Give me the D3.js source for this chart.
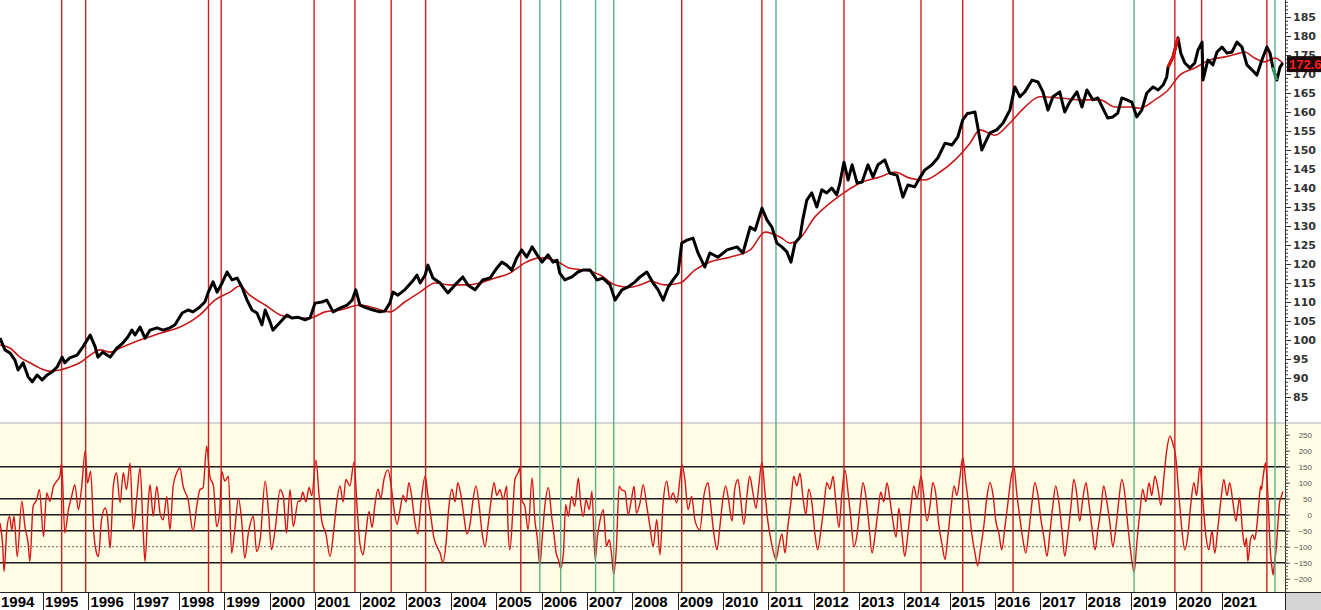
<!DOCTYPE html>
<html><head><meta charset="utf-8">
<script src="https://cdn.jsdelivr.net/npm/d3@7"></script>
<style>body{margin:0;background:#fff;} svg{display:block}</style>
</head><body>
<svg id="c" width="1321" height="610"></svg>
<script>
// ---------- DATA ----------
const yearLabels = d3.range(1994, 2022);
const priceTicks = d3.range(85, 190, 5);
const oscTicks = d3.range(-200, 300, 50);
const oscLevels = [150, 50, 0, -50, -150];
const oscDotted = [-100];
const lastPrice = "172.6";
const redSignals = [1995.41,1995.94,1998.65,1998.93,2000.98,2001.88,2002.68,2003.44,2005.54,2009.09,2010.86,2012.67,2014.37,2015.29,2016.40,2019.97,2020.56,2022.00];
const greenSignals = [2005.96,2006.42,2007.19,2007.59,2011.17,2019.07,2022.18];
const redPriceSpan = [2019.81, 2020.05];
const greenPriceSpan = [2022.12, 2022.24];

const price = [
[1994.05,100.5],[1994.16,97.4],[1994.27,96.6],[1994.38,94.7],[1994.45,92.1],[1994.56,94.0],[1994.67,90.3],[1994.76,89.0],[1994.87,90.8],[1994.98,89.5],
[1995.09,90.8],[1995.20,91.6],[1995.31,92.9],[1995.42,95.5],[1995.48,94.0],[1995.59,95.3],[1995.75,96.0],[1995.88,98.2],[1996.04,101.3],[1996.15,98.2],
[1996.21,95.5],[1996.32,96.8],[1996.48,95.5],[1996.63,97.9],[1996.76,99.2],[1996.87,100.8],[1996.96,102.6],[1997.03,101.3],[1997.14,103.4],[1997.25,100.5],
[1997.36,102.6],[1997.51,103.2],[1997.65,102.6],[1997.80,103.2],[1997.91,104.0],[1998.07,107.1],[1998.20,107.9],[1998.31,107.4],[1998.46,108.7],[1998.57,110.0],
[1998.64,112.4],[1998.75,115.3],[1998.84,112.6],[1998.95,115.0],[1999.06,117.9],[1999.17,115.8],[1999.28,116.3],[1999.39,113.9],[1999.50,110.5],[1999.61,107.9],
[1999.72,107.1],[1999.83,104.0],[1999.90,107.9],[2000.01,104.7],[2000.07,102.6],[2000.23,104.7],[2000.38,106.6],[2000.49,105.8],[2000.62,106.0],[2000.78,105.3],
[2000.89,105.8],[2001.00,109.7],[2001.15,110.0],[2001.26,110.5],[2001.40,107.4],[2001.55,108.4],[2001.71,109.2],[2001.82,110.5],[2001.90,113.2],[2001.99,109.2],
[2002.15,108.4],[2002.28,107.9],[2002.43,107.4],[2002.54,107.6],[2002.65,109.7],[2002.72,112.6],[2002.83,111.8],[2002.98,113.2],[2003.14,115.3],[2003.25,117.1],
[2003.32,115.0],[2003.43,117.1],[2003.49,119.7],[2003.60,116.3],[2003.76,115.0],[2003.93,112.4],[2004.09,114.5],[2004.26,116.6],[2004.37,114.5],[2004.53,113.2],
[2004.70,115.8],[2004.86,116.3],[2005.01,118.9],[2005.12,120.5],[2005.23,119.7],[2005.34,118.4],[2005.45,121.6],[2005.56,123.7],[2005.67,121.8],[2005.79,124.5],
[2005.90,122.4],[2006.01,120.5],[2006.14,122.4],[2006.25,120.5],[2006.34,121.0],[2006.40,117.6],[2006.51,115.8],[2006.67,116.6],[2006.80,117.9],[2006.91,118.4],
[2007.07,118.4],[2007.22,115.8],[2007.35,116.3],[2007.51,114.5],[2007.62,110.5],[2007.77,113.2],[2007.90,113.9],[2008.06,115.3],[2008.17,116.6],[2008.32,117.9],
[2008.46,115.0],[2008.57,113.2],[2008.68,110.5],[2008.79,113.9],[2008.90,115.8],[2009.01,117.6],[2009.09,125.5],[2009.21,126.3],[2009.34,126.8],[2009.45,122.9],
[2009.60,119.2],[2009.71,122.9],[2009.89,121.8],[2010.09,123.7],[2010.31,124.5],[2010.44,122.9],[2010.60,129.7],[2010.71,128.9],[2010.86,134.7],[2010.97,131.6],
[2011.08,129.7],[2011.19,125.5],[2011.30,124.5],[2011.41,123.2],[2011.50,120.5],[2011.59,125.5],[2011.70,127.1],[2011.76,131.6],[2011.85,136.8],[2011.96,138.7],
[2012.07,135.0],[2012.18,139.5],[2012.29,138.7],[2012.40,140.0],[2012.51,138.2],[2012.58,141.3],[2012.67,146.8],[2012.76,142.1],[2012.85,146.1],[2012.96,141.3],
[2013.07,141.6],[2013.20,146.1],[2013.31,142.9],[2013.42,146.1],[2013.57,147.4],[2013.68,143.9],[2013.84,143.4],[2013.97,137.6],[2014.08,140.8],[2014.23,140.3],
[2014.34,142.6],[2014.45,144.7],[2014.61,146.1],[2014.74,147.9],[2014.90,151.8],[2015.05,151.3],[2015.18,153.4],[2015.29,157.9],[2015.40,159.7],[2015.45,159.7],
[2015.56,160.0],[2015.62,156.1],[2015.71,150.0],[2015.78,151.8],[2015.89,154.5],[2016.04,155.3],[2016.18,157.1],[2016.33,160.5],[2016.44,166.6],[2016.55,164.0],
[2016.66,165.3],[2016.82,168.4],[2016.95,167.9],[2017.06,165.3],[2017.17,160.5],[2017.28,164.0],[2017.43,165.3],[2017.54,160.0],[2017.65,162.6],[2017.81,165.3],
[2017.92,161.3],[2018.03,165.8],[2018.16,163.2],[2018.27,163.7],[2018.38,161.0],[2018.49,158.4],[2018.60,158.7],[2018.71,159.7],[2018.80,163.7],[2018.91,163.2],
[2019.02,162.6],[2019.13,158.7],[2019.24,160.5],[2019.35,165.0],[2019.49,166.6],[2019.60,165.8],[2019.71,167.1],[2019.79,169.2],[2019.82,171.8],[2019.93,174.5],
[2020.04,179.5],[2020.10,175.5],[2020.19,172.9],[2020.30,171.6],[2020.41,172.9],[2020.48,176.3],[2020.57,178.4],[2020.59,168.4],[2020.70,173.7],[2020.81,172.4],
[2020.90,175.8],[2021.01,177.1],[2021.12,175.5],[2021.23,175.8],[2021.34,178.4],[2021.45,177.1],[2021.56,172.4],[2021.67,171.1],[2021.78,169.7],[2021.89,173.7],
[2022.00,177.1],[2022.07,175.5],[2022.13,171.8],[2022.22,168.4],[2022.29,171.8],[2022.35,172.9]
];

const movingAvg = [
[1994.05,98.7],[1994.27,97.9],[1994.49,95.5],[1994.71,94.0],[1994.93,92.6],[1995.15,91.8],[1995.37,92.1],[1995.59,92.9],[1995.81,94.0],[1996.04,96.0],
[1996.26,97.4],[1996.48,96.8],[1996.70,97.9],[1997.14,100.0],[1997.58,101.8],[1998.02,103.4],[1998.46,106.6],[1998.79,110.5],[1999.12,112.6],[1999.34,114.2],
[1999.56,111.8],[1999.90,109.2],[2000.23,106.6],[2000.56,105.8],[2000.89,105.8],[2001.22,107.4],[2001.55,107.9],[2001.99,109.2],[2002.32,108.4],[2002.65,107.4],
[2002.98,110.0],[2003.32,112.6],[2003.65,115.0],[2003.98,114.5],[2004.31,114.5],[2004.64,115.0],[2004.97,116.3],[2005.30,117.6],[2005.63,120.3],[2005.96,121.6],
[2006.29,121.0],[2006.62,118.9],[2006.95,118.4],[2007.29,117.1],[2007.62,114.5],[2007.95,113.9],[2008.28,115.0],[2008.39,115.5],[2008.72,114.5],[2009.05,115.0],
[2009.38,118.4],[2009.71,120.5],[2010.15,121.8],[2010.60,123.7],[2010.93,128.4],[2011.26,127.1],[2011.48,125.5],[2011.70,126.8],[2012.03,132.4],[2012.36,136.0],
[2012.69,138.9],[2013.02,141.3],[2013.46,142.9],[2013.79,144.2],[2014.12,142.6],[2014.45,142.1],[2014.79,144.2],[2015.12,147.4],[2015.45,151.8],[2015.67,155.3],
[2016.00,153.9],[2016.33,157.1],[2016.66,161.3],[2016.99,164.0],[2017.43,163.7],[2017.87,163.2],[2018.32,163.2],[2018.65,161.3],[2018.98,161.3],[2019.20,161.0],
[2019.53,163.2],[2019.82,165.8],[2020.08,169.7],[2020.41,171.6],[2020.74,173.7],[2021.07,174.5],[2021.40,175.5],[2021.51,175.8],[2021.73,174.2],[2021.95,173.2],
[2022.18,174.2],[2022.35,172.9]
];

const oscillator = [
[1994.05,-26],[1994.11,-99],[1994.14,-178],[1994.20,-47],[1994.26,-5],[1994.31,-47],[1994.36,-5],[1994.43,-131],[1994.53,42],[1994.60,-37],
[1994.67,-89],[1994.71,-146],[1994.78,26],[1994.86,47],[1994.92,78],[1995.01,-68],[1995.08,68],[1995.15,42],[1995.23,89],[1995.30,105],
[1995.37,120],[1995.41,162],[1995.48,-57],[1995.56,16],[1995.63,57],[1995.70,94],[1995.78,16],[1995.85,84],[1995.93,199],[1995.98,99],
[1996.05,136],[1996.12,-57],[1996.18,-120],[1996.22,-131],[1996.29,-16],[1996.37,21],[1996.42,-5],[1996.48,-104],[1996.55,89],[1996.62,131],
[1996.70,37],[1996.77,131],[1996.84,78],[1996.92,162],[1996.99,-47],[1997.07,57],[1997.14,146],[1997.21,-57],[1997.25,-146],[1997.32,37],
[1997.36,94],[1997.43,-5],[1997.51,89],[1997.58,5],[1997.65,-16],[1997.73,57],[1997.80,-47],[1997.87,89],[1997.95,131],[1998.02,146],
[1998.09,89],[1998.20,47],[1998.31,-52],[1998.39,26],[1998.46,78],[1998.53,84],[1998.61,214],[1998.68,120],[1998.76,89],[1998.83,-37],
[1998.90,16],[1998.94,136],[1999.01,105],[1999.09,120],[1999.16,-120],[1999.23,-47],[1999.31,52],[1999.38,-16],[1999.45,-136],[1999.53,-57],
[1999.64,-5],[1999.71,-115],[1999.79,-78],[1999.90,105],[1999.97,16],[2000.04,-110],[2000.12,-47],[2000.23,78],[2000.30,57],[2000.37,-57],
[2000.45,78],[2000.52,-37],[2000.63,42],
[2000.67,42],[2000.73,70],[2000.80,40],[2000.87,85],[2000.93,60],[2001.02,170],[2001.09,60],[2001.15,-20],[2001.24,-60],[2001.33,-130],
[2001.42,-40],[2001.48,40],[2001.55,90],[2001.62,40],[2001.68,110],[2001.77,90],[2001.86,165],[2001.93,20],[2001.99,-90],[2002.06,-125],
[2002.12,-60],[2002.19,10],[2002.26,-40],[2002.32,30],[2002.39,80],[2002.45,50],[2002.52,110],[2002.61,140],[2002.68,90],[2002.74,20],
[2002.81,-30],[2002.87,10],[2002.94,60],[2003.01,40],[2003.07,100],[2003.14,50],[2003.20,-20],[2003.27,-60],[2003.34,40],[2003.43,120],
[2003.49,60],[2003.56,-10],[2003.62,-70],[2003.69,-100],[2003.76,-120],[2003.82,-150],[2003.89,-90],[2003.95,20],[2004.02,80],[2004.09,40],
[2004.15,100],[2004.22,60],[2004.29,-10],[2004.35,-60],[2004.42,-30],[2004.48,40],[2004.55,90],[2004.62,30],[2004.68,-50],[2004.75,-100],
[2004.82,-30],[2004.88,40],[2004.95,100],[2005.01,60],
[2005.08,78],[2005.15,47],[2005.23,89],[2005.26,-47],[2005.30,-110],[2005.37,26],[2005.41,110],[2005.48,131],[2005.52,146],[2005.56,47],
[2005.63,26],[2005.70,-47],[2005.79,115],[2005.85,-16],[2005.90,-68],[2005.96,-157],[2006.02,-57],[2006.07,26],[2006.15,84],[2006.22,-5],
[2006.26,-47],[2006.32,-120],[2006.37,-141],[2006.42,-167],[2006.48,-120],[2006.53,31],[2006.59,-5],[2006.66,57],[2006.73,26],[2006.81,115],
[2006.86,37],[2006.92,-5],[2006.98,47],[2007.05,16],[2007.11,73],[2007.18,-141],[2007.23,-68],[2007.29,-16],[2007.36,16],[2007.43,-99],
[2007.49,-78],[2007.54,-120],[2007.59,-188],[2007.65,-99],[2007.71,89],[2007.76,78],[2007.84,73],[2007.91,0],[2007.98,47],[2008.04,89],
[2008.09,5],[2008.17,37],[2008.24,94],[2008.32,26],[2008.39,-37],[2008.46,-99],[2008.54,-16],[2008.61,-125],[2008.68,37],[2008.76,105],
[2008.83,47],[2008.90,68],[2008.98,37],[2009.05,110],[2009.09,157],[2009.16,110],[2009.23,16],[2009.31,57],[2009.38,-16],[2009.49,-47],
[2009.58,60],[2009.67,100],[2009.73,30],[2009.80,-60],[2009.87,-110],[2009.93,-40],[2010.00,50],[2010.06,90],[2010.13,40],[2010.20,-20],
[2010.26,80],[2010.33,110],[2010.39,50],[2010.46,-30],[2010.53,60],[2010.59,120],[2010.66,70],[2010.73,20],[2010.79,90],[2010.86,165],
[2010.92,80],[2010.99,-20],[2011.06,-80],[2011.12,-120],[2011.17,-140],[2011.23,-100],[2011.30,-60],[2011.37,-120],[2011.43,-40],[2011.50,40],
[2011.56,120],[2011.63,90],[2011.70,130],[2011.76,60],[2011.83,0],[2011.89,80],[2011.96,40],[2012.03,-60],[2012.09,-110],[2012.16,-50],
[2012.23,30],[2012.29,100],[2012.36,80],[2012.43,120],[2012.49,40],[2012.56,-40],[2012.62,60],[2012.69,140],[2012.76,70],[2012.82,-10],
[2012.89,-100],[2012.96,-60],[2013.02,20],[2013.09,100],[2013.15,60],[2013.22,-30],[2013.29,-120],[2013.35,-70],[2013.42,10],[2013.48,70],
[2013.55,40],[2013.62,100],[2013.68,50],[2013.75,-20],[2013.82,-70],[2013.88,20],[2013.95,-60],[2014.01,-130],[2014.08,-60],[2014.15,30],
[2014.21,90],[2014.28,50],[2014.37,120],[2014.43,60],[2014.50,-20],[2014.57,30],[2014.63,100],[2014.70,60],[2014.76,-30],[2014.83,-90],
[2014.90,-140],[2014.96,-70],[2015.03,20],[2015.10,90],[2015.16,60],[2015.23,120],[2015.29,180],[2015.36,100],[2015.43,20],[2015.49,-60],
[2015.56,-120],[2015.62,-160],[2015.69,-100],[2015.76,-30],[2015.82,50],[2015.89,100],[2015.96,60],[2016.02,-20],[2016.09,-60],[2016.15,-110],
[2016.22,-40],[2016.29,40],[2016.35,110],[2016.42,150],[2016.48,70],[2016.55,-10],[2016.62,-80],[2016.68,-120],[2016.75,-50],[2016.82,40],
[2016.88,100],[2016.95,60],[2017.01,-10],[2017.08,-70],[2017.15,-130],[2017.21,-60],[2017.28,30],[2017.34,90],[2017.41,40],[2017.48,-50],
[2017.54,-130],[2017.61,-60],[2017.68,30],[2017.74,110],[2017.81,60],[2017.87,-20],[2017.94,50],[2018.01,100],[2018.07,40],[2018.14,-40],
[2018.21,-110],[2018.27,-50],[2018.34,20],[2018.40,90],[2018.47,40],[2018.54,-30],[2018.60,-100],[2018.67,-40],[2018.73,40],[2018.80,110],
[2018.87,60],[2018.93,-30],[2019.00,-120],[2019.07,-180],[2019.13,-90],[2019.20,10],[2019.26,80],[2019.33,40],[2019.40,100],[2019.46,60],
[2019.53,120],[2019.60,80],[2019.66,30],[2019.73,120],[2019.79,200],[2019.86,245],[2019.93,220],[2019.99,180],[2020.06,60],[2020.12,-40],
[2020.19,-110],[2020.26,-60],[2020.32,30],[2020.39,100],[2020.45,60],[2020.52,150],[2020.59,40],[2020.65,-60],[2020.72,-110],[2020.79,-50],
[2020.85,-120],[2020.92,-40],[2020.99,50],[2021.05,110],[2021.12,60],[2021.18,100],[2021.25,40],[2021.32,-20],[2021.36,20],
[2021.40,52],[2021.46,-47],[2021.51,-99],[2021.55,-73],[2021.58,-146],[2021.64,-78],[2021.69,-63],[2021.73,-78],[2021.77,-47],[2021.83,47],
[2021.86,89],[2021.88,78],[2021.90,99],[2021.94,141],[2021.97,162],[2022.00,120],[2022.04,5],[2022.08,-120],[2022.11,-162],[2022.14,-188],
[2022.16,-162],[2022.21,-99],[2022.25,-16],[2022.28,37],[2022.32,57],[2022.35,73]
];

// ---------- LAYOUT ----------
const W = 1321, H = 610, PR = 1285;
const UP_BOTTOM = 422, LO_TOP = 424, LO_BOTTOM = 592;
const x = d3.scaleLinear().domain([1994.05, 2022.40]).range([0, PR]);
const yP = d3.scaleLinear().domain([85, 185]).range([397, 17]);
const yO = d3.scaleLinear().domain([-150, 150]).range([562.7, 466.7]);
const RED = "#cc1f1f", GREEN = "#5fae8c";

const svg = d3.select("#c");
const defs = svg.append("defs");
defs.append("clipPath").attr("id","cu").append("rect").attr("x",0).attr("y",0).attr("width",PR).attr("height",UP_BOTTOM);
defs.append("clipPath").attr("id","cl").append("rect").attr("x",0).attr("y",LO_TOP).attr("width",PR).attr("height",LO_BOTTOM-LO_TOP);

svg.append("rect").attr("width",W).attr("height",H).attr("fill","#fff");
svg.append("rect").attr("x",0).attr("y",LO_TOP).attr("width",W).attr("height",LO_BOTTOM-LO_TOP).attr("fill","#fffde3");
svg.append("rect").attr("x",0).attr("y",UP_BOTTOM).attr("width",W).attr("height",LO_TOP-UP_BOTTOM).attr("fill","#d6d6d6");

// oscillator level lines
const gl = svg.append("g").attr("clip-path","url(#cl)");
gl.selectAll("line.lv").data(oscLevels).join("line").attr("class","lv")
  .attr("x1",0).attr("x2",PR).attr("y1",d=>yO(d)).attr("y2",d=>yO(d))
  .attr("stroke","#1a1a1a").attr("stroke-width",1.6);
gl.selectAll("line.dt").data(oscDotted).join("line").attr("class","dt")
  .attr("x1",0).attr("x2",PR).attr("y1",d=>yO(d)).attr("y2",d=>yO(d))
  .attr("stroke","#444").attr("stroke-width",0.8).attr("stroke-dasharray","2,2");

// signal lines
const sig = svg.append("g");
sig.selectAll("line.r").data(redSignals).join("line").attr("class","r")
  .attr("x1",d=>x(d)).attr("x2",d=>x(d)).attr("y1",0).attr("y2",LO_BOTTOM)
  .attr("stroke",RED).attr("stroke-width",1.4);
sig.selectAll("line.g").data(greenSignals).join("line").attr("class","g")
  .attr("x1",d=>x(d)).attr("x2",d=>x(d)).attr("y1",0).attr("y2",LO_BOTTOM)
  .attr("stroke",GREEN).attr("stroke-width",1.4);

// upper panel lines
const gu = svg.append("g").attr("clip-path","url(#cu)");
const lineMA = d3.line().x(d=>x(d[0])).y(d=>yP(d[1])).curve(d3.curveMonotoneX);
gu.append("path").datum(movingAvg).attr("d",lineMA).attr("fill","none")
  .attr("stroke","#c41a1a").attr("stroke-width",1.6);
const lineP = d3.line().x(d=>x(d[0])).y(d=>yP(d[1]));
gu.append("path").datum(price).attr("d",lineP).attr("fill","none")
  .attr("stroke","#000").attr("stroke-width",3).attr("stroke-linejoin","round");
gu.append("path").datum(price.filter(d=>d[0]>=redPriceSpan[0]&&d[0]<=redPriceSpan[1])).attr("d",lineP)
  .attr("fill","none").attr("stroke","#e01010").attr("stroke-width",3);
gu.append("path").datum(price.filter(d=>d[0]>=greenPriceSpan[0]&&d[0]<=greenPriceSpan[1])).attr("d",lineP)
  .attr("fill","none").attr("stroke","#3a9a6a").attr("stroke-width",3);

// oscillator
const lineO = d3.line().x(d=>x(d[0])).y(d=>yO(d[1])).curve(d3.curveMonotoneX);
gl.append("path").datum(oscillator).attr("d",lineO).attr("fill","none")
  .attr("stroke","#d81414").attr("stroke-width",1.4).attr("stroke-linejoin","round");

// right axes
svg.append("line").attr("x1",PR+0.5).attr("x2",PR+0.5).attr("y1",0).attr("y2",LO_BOTTOM).attr("stroke","#333");
const minorP = d3.axisRight(yP).tickValues(d3.range(79, 190, 1)).tickSize(3).tickFormat("");
svg.append("g").attr("transform",`translate(${PR},0)`).call(minorP).call(g=>g.select(".domain").remove())
  .selectAll("line").attr("stroke","#333");
const majP = d3.axisRight(yP).tickValues(priceTicks).tickSize(6).tickPadding(2);
const ga = svg.append("g").attr("transform",`translate(${PR},0)`).call(majP);
ga.select(".domain").remove();
ga.selectAll("line").attr("stroke","#333");
ga.selectAll("text").attr("font-family","DejaVu Sans").attr("font-weight","bold").attr("font-size",11).attr("fill","#333");

const minorO = d3.axisRight(yO).tickValues(d3.range(-230, 290, 10)).tickSize(3).tickFormat("");
svg.append("g").attr("transform",`translate(${PR},0)`).call(minorO).call(g=>g.select(".domain").remove())
  .selectAll("line").attr("stroke","#555");
const majO = d3.axisRight(yO).tickValues(oscTicks).tickSize(5);
const gb = svg.append("g").attr("transform",`translate(${PR},0)`).call(majO);
gb.select(".domain").remove();
gb.selectAll("line").attr("stroke","#555");
gb.selectAll("text").attr("x",27).attr("text-anchor","end").attr("font-family","Arial, Liberation Sans")
  .attr("font-size",8).attr("fill","#555");

// last price label
const lp = svg.append("g").attr("transform",`translate(${PR+2},${yP(172.6)})`);
lp.append("rect").attr("x",0).attr("y",-8).attr("width",40).attr("height",16).attr("fill","#1a0a0a");
lp.append("text").attr("x",2).attr("y",5).text(lastPrice).attr("fill","#ff1a1a")
  .attr("font-family","Arial, Liberation Sans").attr("font-weight","bold").attr("font-size",13);

// x axis strip
svg.append("rect").attr("x",0).attr("y",LO_BOTTOM).attr("width",PR).attr("height",H-LO_BOTTOM).attr("fill","#fff");
svg.append("rect").attr("x",PR).attr("y",LO_BOTTOM).attr("width",W-PR).attr("height",H-LO_BOTTOM).attr("fill","#d4d4d4");
svg.append("line").attr("x1",0).attr("x2",W).attr("y1",LO_BOTTOM+0.5).attr("y2",LO_BOTTOM+0.5).attr("stroke","#222");
const gx = svg.append("g");
gx.selectAll("line").data(yearLabels.slice(1)).join("line")
  .attr("x1",d=>Math.round(x(d))+0.5).attr("x2",d=>Math.round(x(d))+0.5).attr("y1",LO_BOTTOM).attr("y2",H)
  .attr("stroke","#222");
gx.append("line").attr("x1",PR+0.5).attr("x2",PR+0.5).attr("y1",LO_BOTTOM).attr("y2",H).attr("stroke","#222");
gx.selectAll("text").data(yearLabels).join("text")
  .attr("x",d=>Math.max(1, x(d)+2)).attr("y",607).text(d=>d)
  .attr("font-family","Liberation Sans Narrow, Arial Narrow, sans-serif").attr("font-weight","bold")
  .attr("font-size",15).attr("fill","#000");
</script>
</body></html>
